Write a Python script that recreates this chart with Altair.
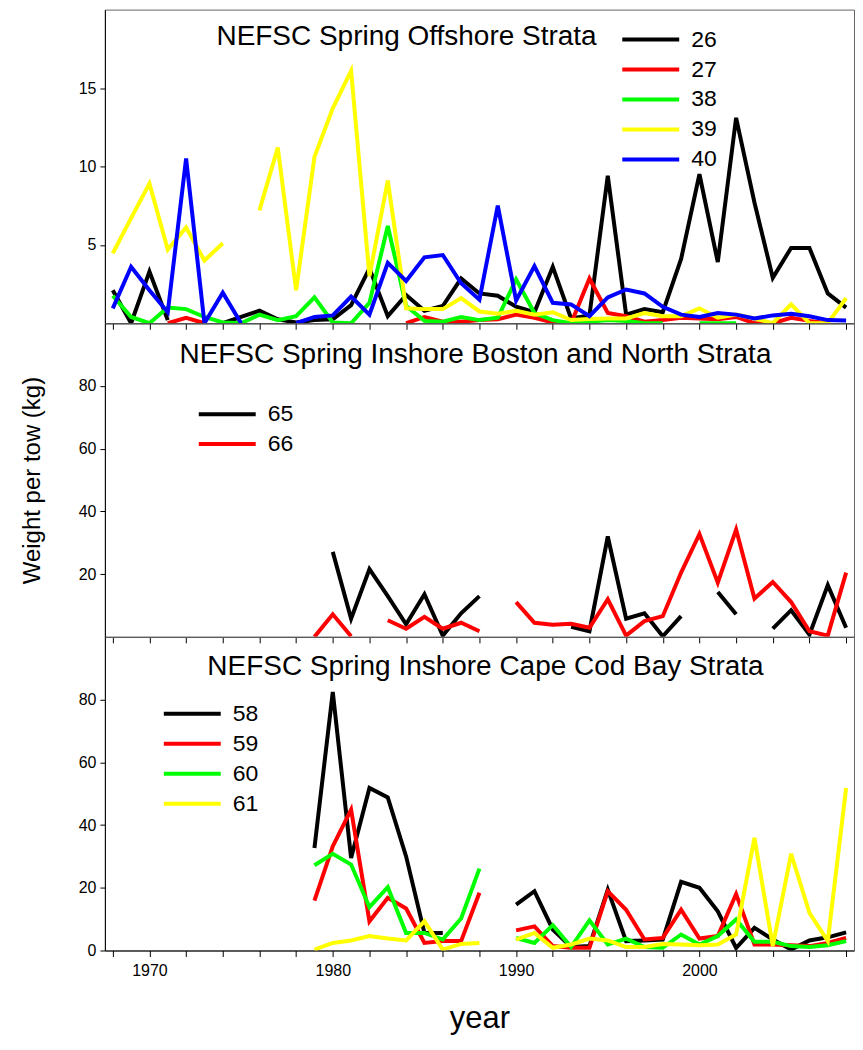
import altair as alt
import pandas as pd

N = None
years = list(range(1968, 2009))

# ---------------- NEFSC Spring Offshore Strata (kg per tow) ----------------
off_names = ["26", "27", "38", "39", "40"]
off_26 = [2.1, 0.0, 3.3, 0.2, N, N, 0.0, 0.4, 0.8, 0.25,
          0.05, 0.2, 0.25, 1.15, 3.5, 0.45, 1.8, 0.8, 1.1, 2.85,
          1.9, 1.75, 1.05, 0.7, 3.6, 0.3, 0.5, 9.4, 0.55, 0.9,
          0.7, 4.1, 9.5, 3.9, 13.1, 7.7, 2.9, 4.8, 4.8, 1.9,
          1.0]
off_27 = [N, N, N, 0.0, 0.35, 0.0, N, N, N, N,
          N, N, N, N, N, N, 0.0, 0.4, 0.1, 0.1,
          0.2, 0.25, 0.55, 0.35, 0.05, 0.0, 2.85, 0.65, 0.45, 0.1,
          0.2, 0.35, 0.3, 0.25, 0.4, 0.0, 0.0, 0.35, 0.15, 0.0,
          N]
off_38 = [1.75, 0.4, 0.0, 1.0, 0.9, 0.4, 0.05, 0.0, 0.55, 0.2,
          0.45, 1.65, 0.05, 0.0, 1.3, 6.2, 1.1, 0.15, 0.1, 0.4,
          0.2, 0.35, 2.8, 0.65, 0.2, 0.0, 0.1, 0.2, 0.15, 0.0,
          0.0, N, 0.0, 0.0, 0.0, N, N, N, N, N,
          N]
off_39 = [4.45, 6.7, 8.9, 4.7, 6.1, 4.0, 5.1, N, 7.2, 11.2,
          2.1, 10.6, 13.7, 16.1, 3.0, 9.1, 0.95, 0.9, 0.9, 1.6,
          0.75, 0.6, 0.8, 0.55, 0.7, 0.2, 0.27, 0.3, 0.3, 0.65,
          0.45, 0.45, 0.95, 0.35, 0.55, 0.3, 0.0, 1.2, 0.0, 0.0,
          1.6]
off_40 = [0.95, 3.6, 2.1, 0.7, 10.5, 0.0, 1.95, 0.0, N, N,
          0.0, 0.4, 0.5, 1.7, 0.55, 3.85, 2.7, 4.2, 4.35, 2.55,
          1.5, 7.5, 1.45, 3.65, 1.3, 1.2, 0.45, 1.65, 2.15, 1.9,
          1.05, 0.55, 0.4, 0.65, 0.55, 0.3, 0.5, 0.6, 0.45, 0.2,
          0.18]
off_colors = ["#000000", "#ff0000", "#00ff00", "#ffff00", "#0000ff"]

# ---------------- NEFSC Spring Inshore Boston and North Strata ----------------
bos_names = ["65", "66"]
bos_65 = [N] * 10 + \
         [N, N, 27.1, 5.8, 21.6, 13.0, 4.0, 13.6, 0.4, 7.5,
          13.0, N, N, N, N, 3.2, 1.8, 32.0, 5.8, 7.5,
          0.2, 6.6, N, 14.3, 7.2, N, 2.6, 8.5, 0.7, 16.5,
          2.9]
bos_66 = [N] * 10 + \
         [N, 0.0, 7.2, 0.2, N, 5.3, 2.6, 6.4, 2.6, 4.5,
          1.8, N, 11.1, 4.5, 3.9, 4.2, 2.9, 12.0, 0.4, 5.0,
          6.6, 20.5, 32.8, 17.3, 34.2, 12.2, 17.5, 11.1, 1.8, 0.4,
          20.5]
bos_colors = ["#000000", "#ff0000"]

# ---------------- NEFSC Spring Inshore Cape Cod Bay Strata ----------------
ccb_names = ["58", "59", "60", "61"]
ccb_58 = [N] * 10 + \
         [N, 32.7, 82.4, 29.5, 51.8, 48.8, 30.0, 5.6, 5.6, N,
          N, N, 14.6, 18.9, 6.7, 1.1, 1.4, 19.4, 3.0, 3.2,
          3.5, 21.9, 20.0, 12.5, 0.8, 7.2, 3.5, 0.3, 3.2, 4.2,
          5.8]
ccb_59 = [N] * 10 + \
         [N, 15.9, 33.2, 44.9, 9.3, 16.8, 13.4, 2.4, 3.0, 3.0,
          18.4, N, 6.4, 7.7, 1.4, 0.85, 0.85, 18.9, 13.0, 3.5,
          4.0, 13.0, 3.8, 4.6, 18.0, 1.9, 1.9, 1.7, 1.4, 2.4,
          4.0]
ccb_60 = [N] * 10 + \
         [N, 27.2, 30.8, 27.4, 13.8, 20.2, 5.6, 5.6, 3.5, 10.2,
          26.1, N, 4.0, 2.4, 8.1, 1.1, 9.6, 1.9, 3.8, 1.1,
          0.85, 5.1, 1.9, 4.6, 9.9, 2.8, 2.8, 1.4, 1.1, 1.7,
          3.0]
ccb_61 = [N] * 10 + \
         [N, 0.3, 2.4, 3.2, 4.6, 3.8, 3.2, 9.3, 0.3, 2.1,
          2.4, N, 3.5, 5.6, 0.85, 1.9, 3.8, 3.2, 1.1, 1.1,
          2.1, 1.9, 1.7, 1.9, 5.1, 35.9, 1.4, 30.8, 12.0, 3.0,
          51.8]
ccb_colors = ["#000000", "#ff0000", "#00ff00", "#ffff00"]

tick_years = list(range(1968, 2009, 2))
FONT = "Liberation Sans, Arial, sans-serif"
X_DOMAIN = [1967.57, 2008.43]
W, H = 750, 314


def long_df(names, series):
    rows = []
    for name, vals in zip(names, series):
        seg = 0
        for yr, v in zip(years, vals):
            if v is None:
                seg += 1
                continue
            rows.append({"year": yr, "value": v, "strata": name,
                         "seg": f"{name}_{seg}"})
    return pd.DataFrame(rows)


def panel(df, names, colors, ymax, yvalues, title, tx, ty, lx, ly,
          bottom=False, ytitle=None):
    if bottom:
        xaxis = alt.Axis(values=tick_years, format="d",
                         labelExpr="datum.value % 10 === 0 ? datum.label : ''",
                         tickSize=6, labelPadding=6, labelFontSize=16,
                         title="year", titleFontSize=31, titlePadding=25,
                         grid=False)
    else:
        xaxis = alt.Axis(values=tick_years, labels=False, tickSize=6,
                         title=None, grid=False)
    if ytitle:
        yaxis = alt.Axis(values=yvalues, tickSize=5, labelPadding=4,
                         labelFontSize=16, title=ytitle, titleFontSize=24,
                         titlePadding=34, grid=False)
    else:
        yaxis = alt.Axis(values=yvalues, tickSize=5, labelPadding=4,
                         labelFontSize=16, title=None, grid=False)

    lines = alt.Chart(df).mark_line(strokeWidth=4, clip=True).encode(
        x=alt.X("year:Q", scale=alt.Scale(domain=X_DOMAIN, nice=False, zero=False),
                axis=xaxis),
        y=alt.Y("value:Q", scale=alt.Scale(domain=[0, ymax], nice=False),
                axis=yaxis),
        color=alt.Color("strata:N",
                        scale=alt.Scale(domain=names, range=colors),
                        legend=alt.Legend(orient="none", legendX=lx, legendY=ly,
                                          title=None, symbolType="stroke",
                                          symbolSize=3249, symbolStrokeWidth=4,
                                          labelFontSize=23, labelFont=FONT,
                                          labelColor="black",
                                          clipHeight=30, rowPadding=0,
                                          padding=0, labelOffset=10)),
        detail="seg:N",
        order="year:Q",
    )
    ttl = alt.Chart(pd.DataFrame({"label": [title]})).mark_text(
        font=FONT, fontSize=28, align="center", baseline="alphabetic",
        color="black"
    ).encode(text="label:N", x=alt.value(tx), y=alt.value(ty))
    return alt.layer(lines, ttl).properties(width=W, height=H)


top = panel(long_df(off_names, [off_26, off_27, off_38, off_39, off_40]),
            off_names, off_colors, 20, [5, 10, 15],
            "NEFSC Spring Offshore Strata", 302, 35, 516, 15)
mid = panel(long_df(bos_names, [bos_65, bos_66]),
            bos_names, bos_colors, 100, [20, 40, 60, 80],
            "NEFSC Spring Inshore Boston and North Strata", 371, 40, 92, 76,
            ytitle="Weight per tow (kg)")
bot = panel(long_df(ccb_names, [ccb_58, ccb_59, ccb_60, ccb_61]),
            ccb_names, ccb_colors, 100, [0, 20, 40, 60, 80],
            "NEFSC Spring Inshore Cape Cod Bay Strata", 381, 38, 57, 62,
            bottom=True)

chart = alt.vconcat(top, mid, bot, spacing=0, bounds="flush").resolve_scale(
    color="independent", y="independent", x="independent"
).properties(
    padding={"left": 11, "top": 0, "right": 0, "bottom": 2}
).configure(font=FONT).configure_view(
    stroke="#666666", strokeWidth=1
).configure_axis(
    labelFont=FONT, titleFont=FONT, labelColor="black", tickColor="black",
    domainColor="black", titleColor="black", titleFontWeight="normal"
)

chart.save("out.html", embed_options={"renderer": "svg", "actions": False})
